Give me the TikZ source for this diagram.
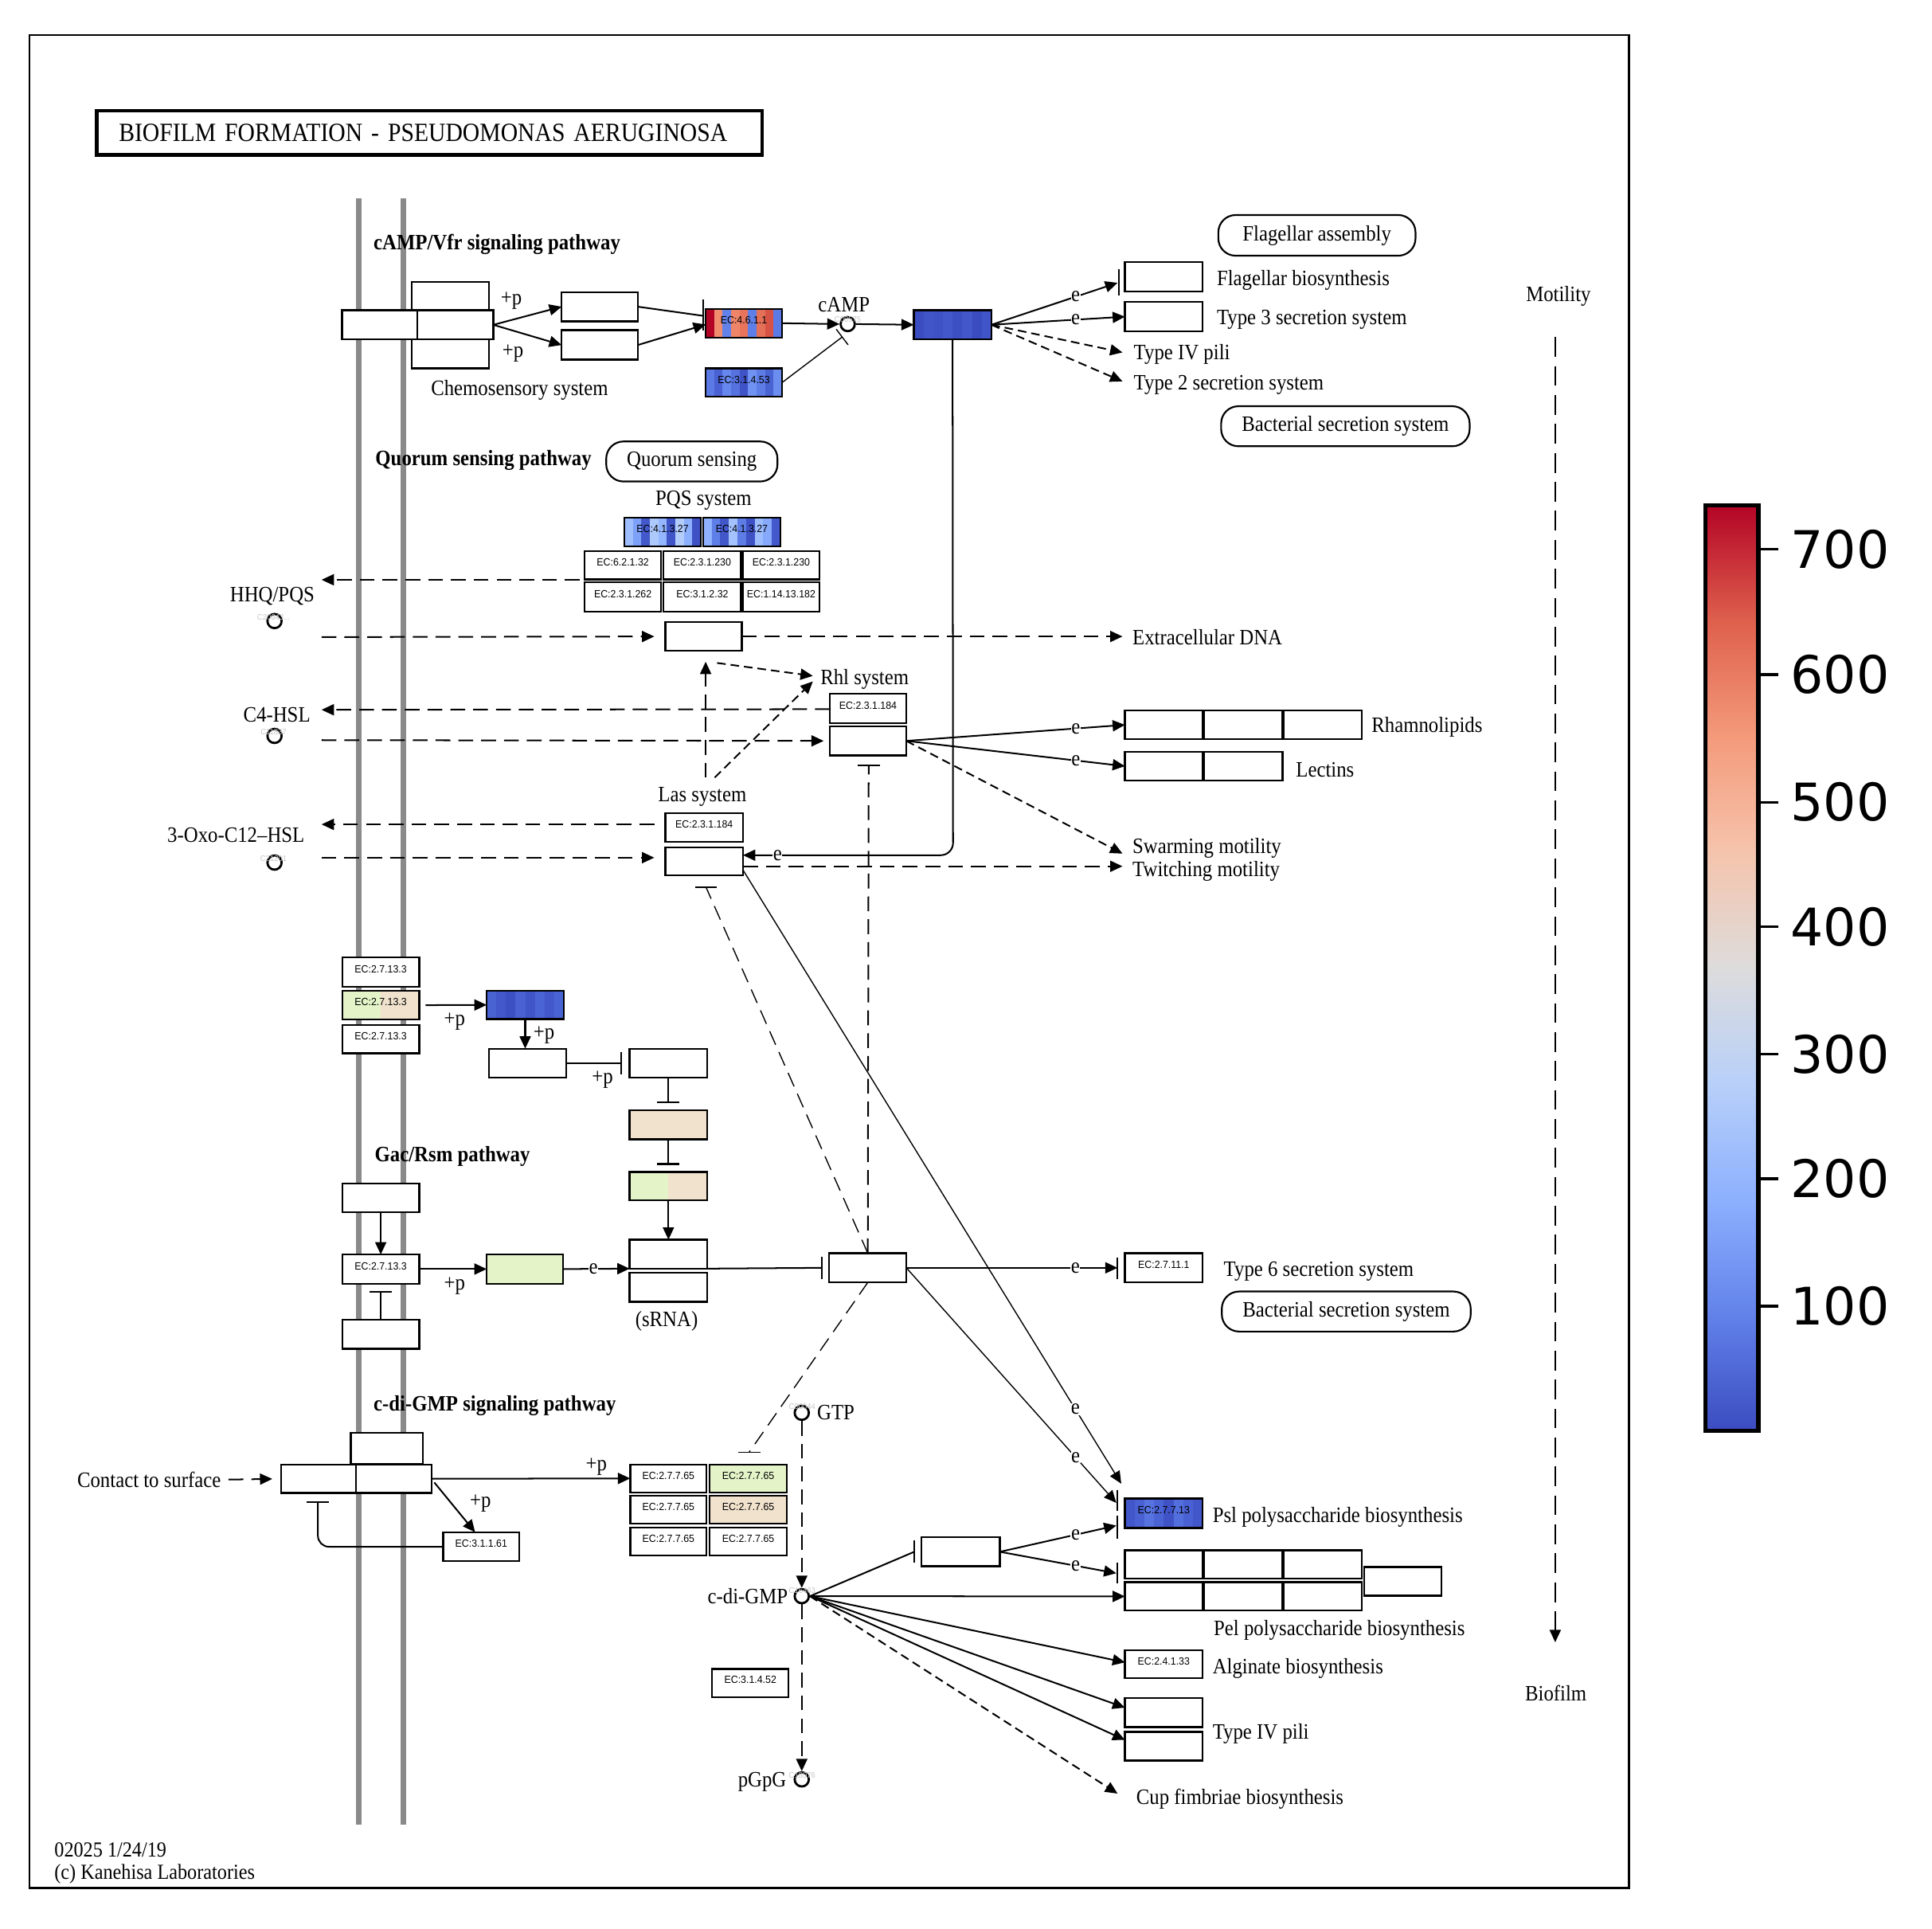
\documentclass[tikz,border=0pt]{standalone}
\usepackage{fontspec}
\setmainfont{Liberation Serif}[FakeStretch=0.9]
\newfontfamily\ecfont{Liberation Sans}[FakeStretch=0.94]
\newfontfamily\cbfont{DejaVu Sans}
\usetikzlibrary{arrows.meta,calc}
\newcommand\lblfont{\fontsize{17.8}{20}\selectfont}
\newcommand\ftfont{\fontsize{17.4}{18}\selectfont}
\newcommand\ecsize{\ecfont\fontsize{8.5}{9}\selectfont}
\newcommand\idsize{\ecfont\fontsize{6.5}{7}\selectfont}
\newcommand\nstr{1}
\definecolor{kgreen}{HTML}{E4F4C8}
\definecolor{kbeige}{HTML}{F0E2CC}
\definecolor{memb}{HTML}{8A8A8A}
% EC:4.6.1.1
\definecolor{ea1}{HTML}{B40426}\definecolor{ea2}{HTML}{F08B6E}\definecolor{ea3}{HTML}{6282EA}
\definecolor{ea4}{HTML}{EE8468}\definecolor{ea5}{HTML}{E7745B}\definecolor{ea6}{HTML}{5F7FE8}
\definecolor{ea7}{HTML}{E57058}\definecolor{ea8}{HTML}{D65244}\definecolor{ea9}{HTML}{5B7AE5}
% EC:3.1.4.53
\definecolor{eb1}{HTML}{5B7AE5}\definecolor{eb2}{HTML}{4961D2}\definecolor{eb3}{HTML}{6687ED}
\definecolor{eb4}{HTML}{5572DF}\definecolor{eb5}{HTML}{3F53C6}\definecolor{eb6}{HTML}{6F92F3}
\definecolor{eb7}{HTML}{5D7CE6}\definecolor{eb8}{HTML}{4A63D3}\definecolor{eb9}{HTML}{6B8DF0}
% Vfr
\definecolor{ec1}{HTML}{3B4CC0}\definecolor{ec2}{HTML}{4055C8}\definecolor{ec3}{HTML}{3E51C5}
\definecolor{ec4}{HTML}{4358CB}\definecolor{ec5}{HTML}{3D50C3}\definecolor{ec6}{HTML}{4257C9}
% PQS A/B
\definecolor{pa1}{HTML}{9EBEFF}\definecolor{pa2}{HTML}{7DA0F9}\definecolor{pa3}{HTML}{4358CB}
\definecolor{pa4}{HTML}{AEC9FC}\definecolor{pa5}{HTML}{94B6FF}\definecolor{pa6}{HTML}{4055C8}
\definecolor{pa7}{HTML}{B3CDFB}\definecolor{pa8}{HTML}{8DB0FE}\definecolor{pa9}{HTML}{3E51C5}
\definecolor{pb1}{HTML}{8FB1FE}\definecolor{pb2}{HTML}{5F7FE8}\definecolor{pb3}{HTML}{4257C9}
\definecolor{pb4}{HTML}{A3C2FE}\definecolor{pb5}{HTML}{5D7CE6}\definecolor{pb6}{HTML}{3E51C5}
\definecolor{pb7}{HTML}{9DBDFF}\definecolor{pb8}{HTML}{86A9FC}\definecolor{pb9}{HTML}{4358CB}
% kinase blue
\definecolor{kb1}{HTML}{4A63D3}\definecolor{kb2}{HTML}{4358CB}\definecolor{kb3}{HTML}{3D50C3}
\definecolor{kb4}{HTML}{4961D2}\definecolor{kb5}{HTML}{4055C8}\definecolor{kb6}{HTML}{4B64D5}
% Psl
\definecolor{ps1}{HTML}{4257C9}\definecolor{ps2}{HTML}{4961D2}\definecolor{ps3}{HTML}{5673E0}
\definecolor{ps4}{HTML}{4B64D5}\definecolor{ps5}{HTML}{3F53C6}\definecolor{ps6}{HTML}{536EDD}
% colorbar
\definecolor{cw0}{HTML}{3B4CC0}\definecolor{cw1}{HTML}{6282EA}\definecolor{cw2}{HTML}{8DB0FE}
\definecolor{cw3}{HTML}{B8D0F9}\definecolor{cw4}{HTML}{DDDCDC}\definecolor{cw5}{HTML}{F5C4AC}
\definecolor{cw6}{HTML}{F49A7B}\definecolor{cw7}{HTML}{DE604D}\definecolor{cw8}{HTML}{B40426}
\tikzset{
  ecstripes/.style={path picture={%
    \foreach \sc [count=\i] in {#1} {\xdef\nstr{\i}}%
    \foreach \sc [count=\i] in {#1} {%
      \pgfmathsetmacro\fa{(\i-1)/\nstr}%
      \pgfmathsetmacro\fb{\i/\nstr}%
      \fill[fill=\sc] ($(path picture bounding box.south west)!\fa!(path picture bounding box.south east)$) rectangle ($(path picture bounding box.north west)!\fb!(path picture bounding box.north east)$);
    }}},
}
\begin{document}
\begin{tikzpicture}[x=1pt,y=-1pt,
  kbox/.style={draw=black, line width=1.5pt, fill=white, minimum width=62pt, minimum height=23pt, inner sep=0pt, outer sep=0pt, anchor=north west, font=\ecsize, text height=6pt, text depth=5pt},
  rbox/.style={draw=black, line width=1.4pt, rounded corners=14pt, font=\lblfont, inner sep=0pt, minimum height=32.5pt},
  lbl/.style={font=\lblfont, inner sep=0pt},
  lblw/.style={lbl, anchor=west},
  blbl/.style={font=\lblfont\bfseries, inner sep=0pt, anchor=west},
  ebl/.style={font=\lblfont, fill=white, inner sep=0.4pt},
  cmpd/.style={circle, draw=black, line width=1.8pt, fill=white, minimum size=11.5pt, inner sep=0pt},
  cid/.style={font=\idsize, text=black!22, inner sep=0pt},
  con/.style={line width=1.3pt},
  thincon/.style={line width=0.9pt},
  arr/.style={con, -{Triangle[length=10pt,width=9pt]}},
  thinarr/.style={thincon, -{Triangle[length=10pt,width=9pt]}},
  dashL/.style={dash pattern=on 12pt off 6.5pt},
  dashS/.style={dash pattern=on 7pt off 4pt},
  dashM/.style={dash pattern=on 16pt off 7.5pt},
]
\fill[white] (0,0) rectangle (1568,1565);
\useasboundingbox (0,0) rectangle (1568,1565);
\draw[line width=1.6pt] (24,28.3) rectangle (1322,1532);
\node[draw=black, line width=3pt, minimum width=540pt, minimum height=36pt, anchor=north west, inner xsep=18pt, text width=504pt, align=left, font=\fontsize{21.3}{24}\selectfont] (title) at (77,88.4) {BIOFILM FORMATION - PSEUDOMONAS AERUGINOSA};

% membrane
\draw[memb, line width=4.5pt] (291,161) -- (291,1481);
\draw[memb, line width=4.5pt] (327.4,161) -- (327.4,1481);

% ================= cAMP/Vfr =================
\node[blbl] (lcampv) at (303,198.4) {cAMP/Vfr signaling pathway};
\node[kbox, minimum width=63pt, minimum height=23.4pt] (rc1) at (334,229) {};
\node[kbox, minimum width=61.2pt, minimum height=23.8pt] (rc2) at (277.5,251.7) {};
\node[kbox, minimum width=61.7pt, minimum height=23.8pt] (rc3) at (338.7,251.7) {};
\node[kbox, minimum width=63pt, minimum height=23.4pt] (rc4) at (334,275.5) {};
\node[kbox, minimum height=23.8pt] (ca) at (455.8,237) {};
\node[kbox, minimum height=23.9pt] (cb) at (455.8,268) {};
\node[kbox, minimum height=23.4pt, ecstripes={ea1,ea2,ea3,ea4,ea5,ea6,ea7,ea8,ea9}] (ec461) at (572.7,250.6) {EC:4.6.1.1};
\node[kbox, minimum height=23.1pt, ecstripes={eb1,eb2,eb3,eb4,eb5,eb6,eb7,eb8,eb9}] (ec3153) at (572.7,298.9) {EC:3.1.4.53};
\node[kbox, minimum width=63pt, minimum height=23.7pt, ecstripes={ec1,ec2,ec3,ec4,ec5,ec6,ec1,ec2}] (vfr) at (741.6,251.7) {};
\node[kbox, minimum width=63pt, minimum height=24pt] (flag) at (913,212.7) {};
\node[kbox, minimum width=63pt, minimum height=24pt] (t3ss) at (913,245) {};
\node[cmpd] (camp) at (688,263) {};
\node[lbl] (lcamp) at (685,247.2) {cAMP};
\node[lbl] (pp1) at (415,243.8) {+p};
\node[lbl] (pp2) at (416.3,286.9) {+p};
\node[lbl] (lchemo) at (421.7,316.4) {Chemosensory system};
\node[lblw] (lflb) at (987.4,227.3) {Flagellar biosynthesis};
\node[lblw] (lt3) at (987.4,259.6) {Type 3 secretion system};
\node[lblw] (lt4) at (920,287.7) {Type IV pili};
\node[lblw] (lt2) at (920,312.4) {Type 2 secretion system};
\node[rbox, minimum width=160pt, minimum height=33pt] (rfa) at (1068.8,191) {Flagellar assembly};
\node[rbox, minimum width=201.7pt] (rbs1) at (1091.9,345.9) {Bacterial secretion system};
\node[lbl] (lmot) at (1264.8,240.3) {Motility};
\node[lbl] (lbio) at (1262.7,1374) {Biofilm};

\draw[arr] (rc3.east) -- (ca.west);
\draw[arr] (rc3.east) -- (cb.west);
\draw[con] (ca.east) -- ($(ec461.west)+(-2,-6)$);
\draw[con] ($(ec461.west)+(-2,-19)$) -- ($(ec461.west)+(-2,6)$);
\draw[arr] (cb.east) -- ($(ec461.west)+(0,1)$);
\draw[arr] (ec461.east) -- (camp.west);
\draw[arr] (camp.east) -- (vfr.west);
\coordinate (campbar) at (683.5,273.5);
\draw[thincon] (ec3153.east) -- (campbar);
\draw[thincon] ($(campbar)!8pt!90:(ec3153.east)$) -- ($(campbar)!8pt!-90:(ec3153.east)$);
\coordinate (flagtip) at (907,229.5);
\draw[arr] (vfr.east) -- (flagtip) node[ebl,pos=0.668] (e1) {e};
\draw[con] ($(flag.west)+(-5,-6)$) -- ($(flag.west)+(-5,15)$);
\draw[arr] (vfr.east) -- (t3ss.west) node[ebl,pos=0.631] (e2) {e};
\coordinate (t4tip) at (911,286);
\draw[arr,dashS] (vfr.east) -- (t4tip);
\coordinate (t2tip) at (911,309.5);
\draw[arr,dashS] (vfr.east) -- (t2tip);
\coordinate (mtop) at (1262.2,273.6);
\coordinate (mbot) at (1262.2,1332.7);
\draw[arr,dashM,line width=1.2pt] (mtop) -- (mbot);

% ================= Quorum sensing =================
\node[blbl] (lqsp) at (304.5,373.3) {Quorum sensing pathway};
\node[rbox, minimum width=139pt] (rqs) at (561.5,374.5) {Quorum sensing};
\node[lbl] (lpqs) at (571,406.3) {PQS system};
\node[kbox, minimum height=23.2pt, ecstripes={pa1,pa2,pa3,pa4,pa5,pa6,pa7,pa8,pa9}] (pqa) at (506.8,420.2) {EC:4.1.3.27};
\node[kbox, minimum width=63pt, minimum height=23.2pt, ecstripes={pb1,pb2,pb3,pb4,pb5,pb6,pb7,pb8,pb9}] (pqb) at (570.5,420.2) {EC:4.1.3.27};
\node[kbox, minimum height=23pt] (g11) at (474.5,447.3) {EC:6.2.1.32};
\node[kbox, minimum width=63pt, minimum height=23pt] (g12) at (538.5,447.3) {EC:2.3.1.230};
\node[kbox, minimum height=23pt] (g13) at (603,447.3) {EC:2.3.1.230};
\node[kbox, minimum height=24pt] (g21) at (474.5,472.5) {EC:2.3.1.262};
\node[kbox, minimum width=63pt, minimum height=24pt] (g22) at (538.5,472.5) {EC:3.1.2.32};
\node[kbox, minimum height=24pt] (g23) at (603,472.5) {EC:1.14.13.182};
\node[lbl] (lhhq) at (221,484) {HHQ/PQS};
\node[cmpd] (hhq) at (222.8,504) {};
\node[kbox, minimum height=23pt] (edna) at (540,505) {};
\node[lblw] (ledna) at (919,517) {Extracellular DNA};
\node[lbl] (lrhl) at (701.7,551) {Rhl system};
\node[kbox, minimum height=24pt] (rhlec) at (673.5,563) {EC:2.3.1.184};
\node[kbox, minimum height=23.5pt] (rhl) at (673.5,589.5) {};
\node[lbl] (lc4) at (224.7,579.8) {C4-HSL};
\node[cmpd] (c4) at (222.8,597.2) {};
\node[kbox, minimum width=63pt, minimum height=23.5pt] (rh1) at (913,576.5) {};
\node[kbox, minimum width=64pt, minimum height=23.5pt] (rh2) at (977,576.5) {};
\node[kbox, minimum width=63pt, minimum height=23.5pt] (rh3) at (1042,576.5) {};
\node[kbox, minimum width=63pt, minimum height=23.5pt] (le1) at (913,610) {};
\node[kbox, minimum width=64pt, minimum height=23.5pt] (le2) at (977,610) {};
\node[lblw] (lrham) at (1113,590) {Rhamnolipids};
\node[lblw] (llec) at (1051.6,624.4) {Lectins};
\node[lbl] (llas) at (570,646.7) {Las system};
\node[kbox, minimum width=63pt, minimum height=23pt] (lasec) at (540,660) {EC:2.3.1.184};
\node[kbox, minimum width=63pt, minimum height=23pt] (lasbox) at (540,687.5) {};
\node[lbl] (loxo) at (191.5,678) {3-Oxo-C12–HSL};
\node[cmpd] (oxo) at (222.8,700) {};
\node[lblw] (lswarm) at (919,688) {Swarming motility};
\node[lblw] (ltwitch) at (919,707) {Twitching motility};

\coordinate (hhqin) at (261,470.5);
\draw[arr,dashL] ($(g21.north west)+(-4,-2)$) -- (hhqin);
\coordinate (hhqout) at (261,517);
\draw[arr,dashL,shorten >=9pt] (hhqout) -- (edna.west);
\coordinate (ednaend) at (911,516.5);
\draw[arr,dashL] (edna.east) -- (ednaend);
\coordinate (lasq1) at (572.7,631);
\draw[arr,dashL] (lasq1) -- ($(edna.south)+(1.7,9)$);
\draw[arr,dashS] ($(edna.south)+(11,10)$) -- ($(lrhl.west)+(-6,-2.5)$);
\coordinate (lasq2) at (580,631);
\draw[arr,dashS] (lasq2) -- ($(lrhl.west)+(-6,2)$);
\coordinate (c4in) at (261,576);
\draw[arr,dashL] ($(rhlec.west)+(0,0.5)$) -- (c4in);
\coordinate (c4out) at (261,600.6);
\draw[arr,dashL,shorten >=5pt] (c4out) -- (rhl.west);
\draw[arr] (rhl.east) -- (rh1.west) node[ebl,pos=0.775] (e3) {e};
\draw[arr] (rhl.east) -- (le1.west) node[ebl,pos=0.775] (e4) {e};
\coordinate (swarm) at (911,692.7);
\draw[arr,dashS] (rhl.east) -- (swarm);
\coordinate (oxoin) at (261,669);
\draw[arr,dashL] ($(lasec.west)+(-9,-2.5)$) -- (oxoin);
\coordinate (oxoout) at (261,696);
\draw[arr,dashL,shorten >=9pt] (oxoout) -- ($(lasbox.west)+(0,-3)$);
\coordinate (twitch) at (911,703);
\draw[arr,dashL] ($(lasbox.east)+(0,4)$) -- (twitch);
\coordinate (vcorner) at (773.5,694);
\draw[arr, rounded corners=10pt] (vfr.south) -- (vcorner) -- (lasbox.east |- vcorner);
\node[ebl] (e5) at (631,694) {e};

% ================= two-component / Gac =================
\node[kbox, minimum width=62.6pt, minimum height=23.6pt] (k1) at (277.7,777) {EC:2.7.13.3};
\node[kbox, minimum width=62.6pt, minimum height=23.4pt, ecstripes={kgreen,kbeige}] (k2) at (277.7,804) {EC:2.7.13.3};
\node[kbox, minimum width=62.6pt, minimum height=23pt] (k3) at (277.7,831.8) {EC:2.7.13.3};
\node[kbox, minimum width=62.5pt, minimum height=23pt, ecstripes={kb1,kb2,kb3,kb4,kb5,kb6,kb2,kb1}] (kb) at (395,804) {};
\node[kbox, minimum width=62.6pt, minimum height=23.6pt] (kc) at (397,851) {};
\node[kbox, minimum width=63pt, minimum height=23.6pt] (kd) at (511,851) {};
\node[kbox, minimum width=63pt, minimum height=23.5pt, fill=kbeige] (ke) at (511,901) {};
\node[kbox, minimum width=63pt, minimum height=23pt, ecstripes={kgreen,kbeige}] (kf) at (511,951) {};
\node[kbox, minimum width=63pt, minimum height=23.5pt] (srna1) at (511,1006) {};
\node[kbox, minimum width=63pt, minimum height=23.5pt] (srna2) at (511,1033) {};
\node[lbl] (lsrna) at (541,1072) {(sRNA)};
\node[lbl] (pp3) at (369,829) {+p};
\node[lbl] (pp4) at (441.5,839.7) {+p};
\node[lbl] (pp5) at (489,876) {+p};
\node[blbl] (lgac) at (304,938.6) {Gac/Rsm pathway};
\node[kbox, minimum width=62.6pt, minimum height=23.3pt] (ga) at (277.7,960.5) {};
\node[kbox, minimum width=62.6pt, minimum height=23.7pt] (gb) at (277.7,1018) {EC:2.7.13.3};
\node[kbox, minimum width=62.6pt, minimum height=23.5pt] (gc) at (277.7,1071) {};
\node[kbox, minimum width=62pt, minimum height=23.7pt, fill=kgreen] (gd) at (395,1018) {};
\node[lbl] (pp6) at (369,1043.7) {+p};
\node[kbox, minimum width=62.6pt, minimum height=23.7pt] (gac) at (673,1017) {};
\node[kbox, minimum width=63pt, minimum height=23.7pt] (t6) at (913,1017) {EC:2.7.11.1};
\node[lblw] (lt6) at (993,1032) {Type 6 secretion system};
\node[rbox, minimum width=202pt] (rbs2) at (1092.6,1064.3) {Bacterial secretion system};

\draw[arr] ($(k2.east)+(5,0)$) -- (kb.west);
\draw[arr] (kb.south) -- (kb.south |- kc.north);
\draw[con] (kc.east) -- ($(kd.west)+(-7,0)$);
\draw[con] ($(kd.west)+(-7,-9)$) -- ($(kd.west)+(-7,9)$);
\coordinate (kbar1) at (542.5,894.6);
\draw[con] (kd.south) -- (kbar1);
\draw[con] ($(kbar1)+(-9,0)$) -- ($(kbar1)+(9,0)$);
\coordinate (kbar2) at (542.5,944.6);
\draw[con] (ke.south) -- (kbar2);
\draw[con] ($(kbar2)+(-9,0)$) -- ($(kbar2)+(9,0)$);
\draw[arr] (kf.south) -- (srna1.north);
\draw[arr] (ga.south) -- (gb.north);
\coordinate (gbar) at (309,1048.6);
\draw[con] (gc.north) -- (gbar);
\draw[con] ($(gbar)+(-9,0)$) -- ($(gbar)+(9,0)$);
\draw[arr] (gb.east) -- (gd.west);
\draw[arr] (gd.east) -- (srna1.south west) node[ebl,pos=0.455] (e9) {e};
\draw[con] (srna1.south east) -- ($(gac.west)+(-6,0)$);
\draw[con] ($(gac.west)+(-6,-9)$) -- ($(gac.west)+(-6,9)$);
\draw[arr] (gac.east) -- ($(t6.west)+(-6,0)$) node[ebl,pos=0.8] (e10) {e};
\draw[con] ($(t6.west)+(-6,-8)$) -- ($(t6.west)+(-6,9)$);
\coordinate (rhlbar) at (705,621);
\draw[con,dashL] (gac.north) -- (rhlbar);
\draw[con] ($(rhlbar)+(-9,0)$) -- ($(rhlbar)+(9,0)$);
\coordinate (lasbar) at (573,720);
\draw[thincon,dashL] (gac.north) -- (lasbar);
\draw[thincon] ($(lasbar)+(-9,0)$) -- ($(lasbar)+(9,0)$);

% ================= c-di-GMP =================
\node[blbl] (lcdg) at (303,1140.7) {c-di-GMP signaling pathway};
\node[kbox, minimum width=58.2pt, minimum height=25.4pt] (ct) at (284.8,1162.6) {};
\node[kbox, minimum width=61pt, minimum height=23.1pt] (cl) at (228,1188.5) {};
\node[kbox, minimum width=61.5pt, minimum height=23.1pt] (cr) at (289,1188.5) {};
\node[lbl] (lcts) at (121,1200.7) {Contact to surface};
\node[kbox, minimum height=22.5pt] (d11) at (511.5,1188.5) {EC:2.7.7.65};
\node[kbox, minimum width=62.6pt, minimum height=22.5pt, fill=kgreen] (d12) at (576,1188.5) {EC:2.7.7.65};
\node[kbox, minimum height=22.5pt] (d21) at (511.5,1214) {EC:2.7.7.65};
\node[kbox, minimum width=62.6pt, minimum height=22.5pt, fill=kbeige] (d22) at (576,1214) {EC:2.7.7.65};
\node[kbox, minimum height=22.8pt] (d31) at (511.5,1239.5) {EC:2.7.7.65};
\node[kbox, minimum width=62.6pt, minimum height=22.8pt] (d32) at (576,1239.5) {EC:2.7.7.65};
\node[kbox, minimum height=23.6pt] (e3161) at (359.6,1243.4) {EC:3.1.1.61};
\node[lbl] (pp7) at (484,1190) {+p};
\node[lbl] (pp8) at (390,1220) {+p};
\node[cmpd] (gtp) at (650.7,1146.5) {};
\node[lblw] (lgtp) at (663,1146.5) {GTP};
\node[cmpd] (cdg) at (650.7,1295.3) {};
\node[lbl, anchor=east] (lcdgmp) at (639.5,1295.3) {c-di-GMP};
\node[cmpd] (pgpg) at (650.7,1444) {};
\node[lbl] (lpgpg) at (618.6,1446) {pGpG};
\node[kbox, minimum height=23pt] (e3152) at (578,1354.3) {EC:3.1.4.52};
\node[kbox, minimum width=63.5pt, minimum height=23.4pt] (cbox) at (748,1247.6) {};
\node[kbox, minimum width=63pt, minimum height=24pt, ecstripes={ps1,ps2,ps3,ps4,ps5,ps6,ps2,ps1}] (psl) at (913,1216) {EC:2.7.7.13};
\node[lblw] (lpsl) at (984,1231) {Psl polysaccharide biosynthesis};
\node[kbox, minimum width=63pt, minimum height=23pt] (p11) at (913,1258) {};
\node[kbox, minimum width=64pt, minimum height=23pt] (p12) at (977,1258) {};
\node[kbox, minimum width=63pt, minimum height=23pt] (p13) at (1042,1258) {};
\node[kbox, minimum width=63pt, minimum height=23pt] (p21) at (913,1284) {};
\node[kbox, minimum width=64pt, minimum height=23pt] (p22) at (977,1284) {};
\node[kbox, minimum width=63pt, minimum height=23pt] (p23) at (1042,1284) {};
\node[kbox, minimum width=63pt, minimum height=23.4pt] (pex) at (1107,1271.6) {};
\node[lbl] (lpel) at (1087,1323) {Pel polysaccharide biosynthesis};
\node[kbox, minimum width=63pt, minimum height=23pt] (alg) at (913,1339) {EC:2.4.1.33};
\node[lblw] (lalg) at (984,1354) {Alginate biosynthesis};
\node[kbox, minimum width=63pt, minimum height=23.5pt] (tp1) at (913,1378) {};
\node[kbox, minimum width=63pt, minimum height=23.2pt] (tp2) at (913,1405.4) {};
\node[lblw] (ltp) at (984,1407) {Type IV pili};
\node[lblw] (lcup) at (922,1460) {Cup fimbriae biosynthesis};

\draw[arr,dashL,shorten >=7pt] ($(lcts.east)+(6,0)$) -- (cl.west);
\draw[arr] (cr.east) -- (d11.west);
\draw[arr] ($(cr.east)+(2,3)$) -- ($(e3161.north)+(-5,0)$);
\coordinate (cbar) at (258,1219);
\draw[con, rounded corners=9pt] (e3161.west) -| (cbar);
\draw[con] ($(cbar)+(-9,0)$) -- ($(cbar)+(9,0)$);
\coordinate (cgbar) at (608,1178.5);
\draw[thincon,dashL] (gac.south) -- (cgbar);
\draw[thincon] ($(cgbar)+(-9,0)$) -- ($(cgbar)+(9,0)$);
\draw[arr,dashL] (gtp.south) -- (cdg.north);
\draw[arr,dashL] (cdg.south) -- (pgpg.north);
\coordinate (cbbar) at (742,1259.3);
\draw[con] (cdg.east) -- (cbbar);
\draw[con] ($(cbbar)+(0,-9)$) -- ($(cbbar)+(0,9)$);
\coordinate (pslin1) at (910,1204);
\draw[thinarr] ($(lasbox.east)+(0,7)$) -- (pslin1) node[ebl,pos=0.879] (e8) {e};
\coordinate (pslin2) at (906,1219.6);
\draw[thinarr] (gac.east) -- (pslin2) node[ebl,pos=0.806] (e11) {e};
\coordinate (pslin3) at (906,1238);
\draw[arr] (cbox.east) -- (pslin3) node[ebl,pos=0.65] (e12) {e};
\coordinate (pelin) at (906,1276.7);
\draw[arr] (cbox.east) -- (pelin) node[ebl,pos=0.65] (e13) {e};
\draw[con] ($(psl.west)+(-6,-19)$) -- ($(psl.west)+(-6,-2)$);
\draw[con] ($(psl.west)+(-6,2)$) -- ($(psl.west)+(-6,21)$);
\draw[con] ($(p11.south west)+(-6,-13)$) -- ($(p11.south west)+(-6,4)$);
\draw[arr] (cdg.east) -- (p21.west);
\draw[arr] (cdg.east) -- ($(alg.west)+(0,-1.5)$);
\draw[arr] (cdg.east) -- ($(tp1.west)+(0,-4)$);
\draw[arr] (cdg.east) -- ($(tp2.west)+(0,-5)$);
\coordinate (cup) at (907,1455.5);
\draw[arr,dashS] (cdg.east) -- (cup);

% compound ids
\node[cid] (id1) at (688,259) {C00575};
\node[cid] (id2) at (222,501) {C20643...};
\node[cid] (id3) at (222,594) {C11837};
\node[cid] (id4) at (222,697) {C21201};
\node[cid] (id5) at (651,1141.6) {C00044};
\node[cid] (id6) at (651,1290.7) {C16463};
\node[cid] (id7) at (651,1440.7) {C18076};

% footer
\node[anchor=west, inner sep=0pt, font=\ftfont] (lver) at (44,1501) {02025 1/24/19};
\node[anchor=west, inner sep=0pt, font=\ftfont] (lcopy) at (44,1521) {(c) Kanehisa Laboratories};

% colorbar
\shade[bottom color=cw0, top color=cw1] (1384,1066.6) rectangle (1427,1161);
\shade[bottom color=cw1, top color=cw2] (1384,972.7) rectangle (1427,1067.1);
\shade[bottom color=cw2, top color=cw3] (1384,878.9) rectangle (1427,973.3);
\shade[bottom color=cw3, top color=cw4] (1384,785) rectangle (1427,879.4);
\shade[bottom color=cw4, top color=cw5] (1384,691.1) rectangle (1427,785.5);
\shade[bottom color=cw5, top color=cw6] (1384,597.2) rectangle (1427,691.6);
\shade[bottom color=cw6, top color=cw7] (1384,503.4) rectangle (1427,597.8);
\shade[bottom color=cw7, top color=cw8] (1384,410) rectangle (1427,503.9);
\draw[line width=3.5pt] (1384,410) rectangle (1427,1161);
\foreach \v/\yy in {700/445.8,600/547.4,500/651,400/752,300/855.6,200/956.6,100/1060} {
  \draw[line width=2.2pt] (1427,\yy) -- (1443,\yy);
  \node[anchor=west, inner sep=0pt, font=\cbfont\fontsize{42}{44}\selectfont] (cbl\v) at (1453,\yy) {\v};
}
\end{tikzpicture}
\end{document}
